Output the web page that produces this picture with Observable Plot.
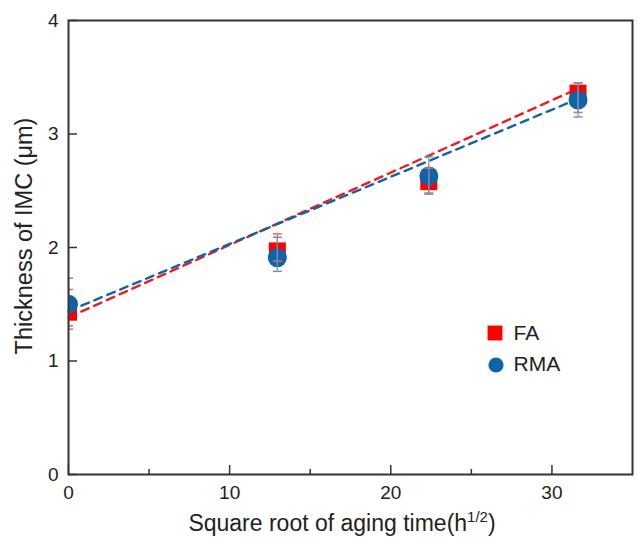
<!DOCTYPE html>
<html><head><meta charset="utf-8">
<script src="https://cdn.jsdelivr.net/npm/d3@7"></script>
<script src="https://cdn.jsdelivr.net/npm/@observablehq/plot@0.6"></script>
<style>body{margin:0;background:#fff;} #chart{width:638px;height:538px;}</style>
</head><body><div id="chart"></div>
<script>
// ---- data ----
const agingTime = [0, 12.96, 22.36, 31.62];          // sqrt(h)
const faThickness = [1.43, 1.97, 2.58, 3.36];
const faLow  = [1.28, 1.88, 2.48, 3.19];
const faHigh = [1.63, 2.12, 2.70, 3.45];
const rmaThickness = [1.50, 1.91, 2.63, 3.30];
const rmaLow  = [1.31, 1.79, 2.47, 3.15];
const rmaHigh = [1.73, 2.09, 2.80, 3.45];
const fitX = [0, 31.62];
const faFit = [1.385, 3.40];
const rmaFit = [1.44, 3.31];
const seriesNames = ["FA", "RMA"];
const xTicks = [0, 10, 20, 30];
const xMinorTicks = [5, 15, 25];
const yTicks = [0, 1, 2, 3, 4];

const RED = "#ff0000", RED_LINE = "#ee1c1c", BLUE = "#0f64a8";
const RED_ERR = "#e06a6a", BLUE_ERR = "#6b93b6";

const fa = agingTime.map((x, i) => ({x, y: faThickness[i], lo: faLow[i], hi: faHigh[i]}));
const rma = agingTime.map((x, i) => ({x, y: rmaThickness[i], lo: rmaLow[i], hi: rmaHigh[i]}));
const fits = [
  ...fitX.map((x, i) => ({x, y: faFit[i], s: seriesNames[0]})),
  ...fitX.map((x, i) => ({x, y: rmaFit[i], s: seriesNames[1]}))
];
const caps = d => d.flatMap(r => [{x: r.x, y: r.lo}, {x: r.x, y: r.hi}]);
const capSymbol = {draw(ctx, size) { const w = Math.sqrt(size / Math.PI); ctx.moveTo(-w, 0); ctx.lineTo(w, 0); }};
const fmt = d3.format("d");

const plot = Plot.plot({
  width: 638, height: 538,
  marginLeft: 68, marginRight: 6, marginTop: 20, marginBottom: 64,
  style: {fontFamily: "'Liberation Sans', Arial, sans-serif", fontSize: "19px", color: "#222", background: "#fff"},
  x: {domain: [0, 35]},
  y: {domain: [0, 4]},
  color: {domain: seriesNames, range: [RED_LINE, BLUE]},
  marks: [
    Plot.line(fits, {x: "x", y: "y", z: "s", stroke: "s", strokeWidth: 2.4, strokeDasharray: "8,6"}),
    Plot.dot(fa, {x: "x", y: "y", symbol: "square", r: 9.6, fill: RED, clip: true}),
    Plot.dot(rma, {x: "x", y: "y", symbol: "circle", r: 9.5, fill: BLUE, clip: true}),
    Plot.ruleX(fa, {x: "x", y1: "lo", y2: "hi", stroke: RED_ERR, strokeWidth: 1.2, clip: true}),
    Plot.dot(caps(fa), {x: "x", y: "y", symbol: capSymbol, r: 4.5, stroke: RED_ERR, fill: "none", strokeWidth: 1.5, clip: true}),
    Plot.ruleX(rma, {x: "x", y1: "lo", y2: "hi", stroke: BLUE_ERR, strokeWidth: 1.2, clip: true}),
    Plot.dot(caps(rma), {x: "x", y: "y", symbol: capSymbol, r: 4.5, stroke: BLUE_ERR, fill: "none", strokeWidth: 1.5, clip: true}),
    Plot.axisX(xTicks, {tickSize: -9, tickPadding: 20, tickFormat: fmt, fontSize: 19, label: null, stroke: "#333", strokeWidth: 1.5}),
    Plot.axisX(xMinorTicks, {tickSize: -5, tickFormat: () => "", label: null, stroke: "#333", strokeWidth: 1.5}),
    Plot.axisY(yTicks, {tickSize: -9, tickPadding: 19, tickFormat: fmt, fontSize: 19, label: null, stroke: "#333", strokeWidth: 1.5}),
    Plot.frame({stroke: "#333", strokeWidth: 2}),
    // legend
    Plot.dot([seriesNames[0]], {frameAnchor: "top-left", dx: 426.5, dy: 312.5, symbol: "square", r: 8.4, fill: RED}),
    Plot.dot([seriesNames[1]], {frameAnchor: "top-left", dx: 427.5, dy: 344.5, symbol: "circle", r: 7.6, fill: BLUE}),
    Plot.text([seriesNames[0]], {frameAnchor: "top-left", dx: 445, dy: 313, lineAnchor: "middle", text: d => d, textAnchor: "start", fontSize: 21, fill: "#222"}),
    Plot.text([seriesNames[1]], {frameAnchor: "top-left", dx: 445, dy: 344, lineAnchor: "middle", text: d => d, textAnchor: "start", fontSize: 21, fill: "#222"})
  ]
});
document.getElementById("chart").appendChild(plot);

// axis titles
const svg = d3.select(plot);
const xl = svg.append("text").attr("x", 342).attr("y", 531).attr("text-anchor", "middle")
  .attr("font-size", 23).attr("fill", "#222");
xl.append("tspan").text("Square root of aging time(h");
xl.append("tspan").attr("font-size", 15).attr("dy", -9).text("1/2");
xl.append("tspan").attr("dy", 9).text(")");
svg.append("text").attr("transform", "translate(32,236) rotate(-90)").attr("text-anchor", "middle")
  .attr("font-size", 23.5).attr("fill", "#222").text("Thickness of IMC (μm)");
</script>
</body></html>
